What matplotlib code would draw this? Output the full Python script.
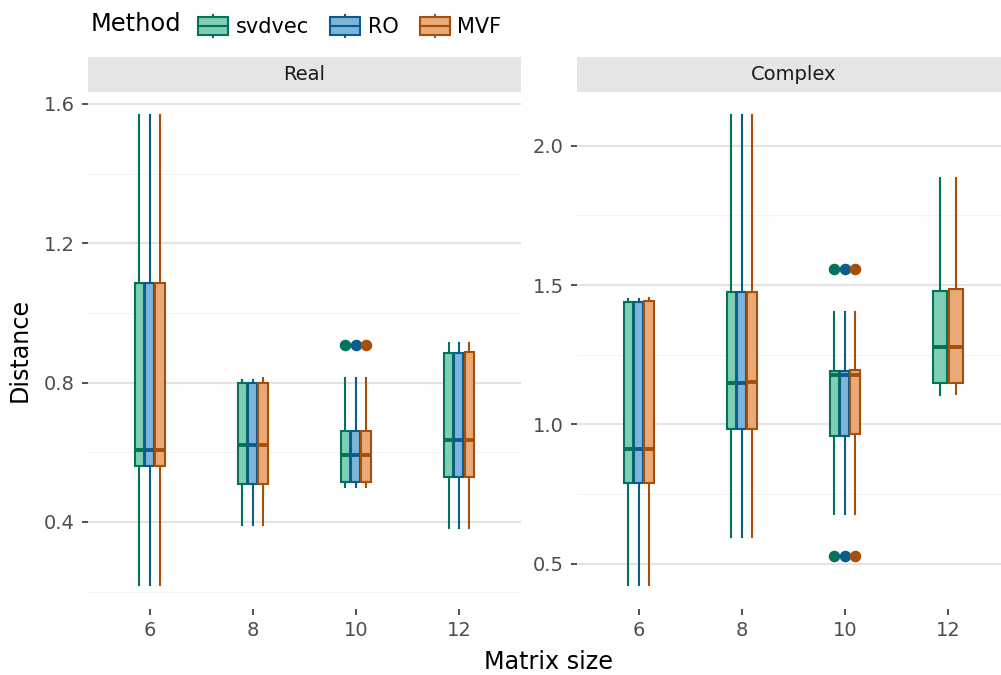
import matplotlib
matplotlib.use("Agg")
import matplotlib.pyplot as plt
from matplotlib.legend_handler import HandlerBase
from matplotlib.patches import Rectangle
from matplotlib.lines import Line2D
from matplotlib.ticker import FormatStrFormatter, MultipleLocator

# data
sizes = [6, 8, 10, 12]
methods = ["svdvec", "RO", "MVF"]
panels = ["Real", "Complex"]

# (lower whisker, q1, median, q3, upper whisker) for each matrix size
real_svdvec = [(0.219, 0.561, 0.607, 1.085, 1.568),
               (0.391, 0.508, 0.620, 0.798, 0.808),
               (0.501, 0.514, 0.593, 0.662, 0.814),
               (0.382, 0.530, 0.635, 0.886, 0.914)]
real_ro = [(0.219, 0.561, 0.607, 1.085, 1.568),
           (0.391, 0.508, 0.620, 0.798, 0.808),
           (0.501, 0.514, 0.593, 0.662, 0.814),
           (0.382, 0.530, 0.635, 0.886, 0.914)]
real_mvf = [(0.219, 0.561, 0.608, 1.085, 1.568),
            (0.391, 0.508, 0.621, 0.799, 0.812),
            (0.501, 0.514, 0.593, 0.662, 0.814),
            (0.382, 0.530, 0.636, 0.889, 0.914)]
real_fliers = [[], [], [0.908], []]

complex_svdvec = [(0.423, 0.788, 0.911, 1.438, 1.448),
                  (0.594, 0.983, 1.148, 1.476, 2.110),
                  (0.678, 0.959, 1.176, 1.191, 1.404),
                  (1.105, 1.150, 1.276, 1.479, 1.883)]
complex_ro = [(0.423, 0.788, 0.911, 1.438, 1.448),
              (0.594, 0.983, 1.148, 1.476, 2.110),
              (0.678, 0.959, 1.176, 1.191, 1.404),
              None]
complex_mvf = [(0.423, 0.788, 0.911, 1.442, 1.452),
               (0.594, 0.983, 1.151, 1.476, 2.110),
               (0.678, 0.964, 1.177, 1.195, 1.404),
               (1.108, 1.150, 1.277, 1.484, 1.883)]
complex_fliers = [[], [], [0.527, 1.557], []]

panel_stats = {
    "Real": {"svdvec": real_svdvec, "RO": real_ro, "MVF": real_mvf},
    "Complex": {"svdvec": complex_svdvec, "RO": complex_ro, "MVF": complex_mvf},
}
panel_fliers = {"Real": real_fliers, "Complex": complex_fliers}
panel_major = {"Real": 0.4, "Complex": 0.5}

fill = {"svdvec": "#80cdb5", "RO": "#7db5da", "MVF": "#e9aa78"}
edge = {"svdvec": "#00735a", "RO": "#0b5b8f", "MVF": "#a64f0b"}

W, H = 1001, 675
fig = plt.figure(figsize=(W / 100, H / 100), dpi=100)

ax_left = [87.7, 576.7]
ax_w = 433.0
ax_top, ax_bot = 91.6, 608.5
strip_h = 35.0
lw = 1.5

for i, name in enumerate(panels):
    ax = fig.add_axes([ax_left[i] / W, 1 - ax_bot / H, ax_w / W, (ax_bot - ax_top) / H])
    stats_by_method = panel_stats[name]
    fliers = panel_fliers[name]

    allv = []
    for j, s in enumerate(sizes):
        present = [m for m in methods if stats_by_method[m][j] is not None]
        n = len(present)
        slot = 0.3 / n
        for k, m in enumerate(present):
            lo, q1, med, q3, hi = stats_by_method[m][j]
            allv += [lo, hi] + fliers[j]
            pos = j + 1 + (k - (n - 1) / 2) * slot
            st = [dict(whislo=lo, q1=q1, med=med, q3=q3, whishi=hi, fliers=fliers[j])]
            ax.bxp(st, positions=[pos], widths=slot * 0.9, patch_artist=True,
                   showcaps=False, manage_ticks=False,
                   boxprops=dict(facecolor=fill[m], edgecolor=edge[m], linewidth=lw),
                   whiskerprops=dict(color=edge[m], linewidth=lw),
                   medianprops=dict(color=edge[m], linewidth=2.8, solid_capstyle="butt"),
                   flierprops=dict(marker="o", markerfacecolor=edge[m], markeredgecolor=edge[m],
                                   markersize=7.3, linestyle="none"),
                   zorder=3)

    lo, hi = min(allv), max(allv)
    pad = 0.05 * (hi - lo)
    ax.set_ylim(lo - pad, hi + pad)
    ax.set_xlim(0.4, 4.6)
    ax.set_xticks(range(1, len(sizes) + 1))
    ax.set_xticklabels([str(s) for s in sizes])
    ax.yaxis.set_major_locator(MultipleLocator(panel_major[name]))
    ax.yaxis.set_minor_locator(MultipleLocator(panel_major[name] / 2))
    ax.yaxis.set_major_formatter(FormatStrFormatter("%.1f"))
    ax.grid(True, axis="y", which="major", color="#e3e3e3", linewidth=1.5, zorder=0)
    ax.grid(True, axis="y", which="minor", color="#f3f3f3", linewidth=0.8, zorder=0)
    ax.set_axisbelow(True)
    for sp in ax.spines.values():
        sp.set_visible(False)
    ax.tick_params(axis="both", which="major", length=4.3, width=1.2, color="#333333",
                   labelsize=14, labelcolor="#4d4d4d", pad=5)
    ax.tick_params(axis="y", which="minor", length=0)

    # facet strip
    sh = strip_h / (ax_bot - ax_top)
    ax.add_patch(Rectangle((0, 1), 1, sh, transform=ax.transAxes, facecolor="#e5e5e5",
                           edgecolor="none", clip_on=False))
    ax.text(0.5, 1 + sh / 2, name, transform=ax.transAxes, ha="center", va="center",
            fontsize=14, color="#1a1a1a")

fig.text(20 / W, 1 - 350 / H, "Distance", rotation=90, ha="center", va="center", fontsize=17.2)
fig.text(548.7 / W, 1 - 662 / H, "Matrix size", ha="center", va="center", fontsize=17.2)


class BoxKey(HandlerBase):
    def create_artists(self, legend, orig_handle, xdescent, ydescent, width, height, fontsize, trans):
        x0, y0 = -xdescent, -ydescent
        fc = orig_handle.get_facecolor()
        ec = orig_handle.get_edgecolor()
        xm = x0 + width / 2
        arts = [
            Line2D([xm, xm], [y0, y0 + height], color=ec, linewidth=lw),
            Rectangle((x0, y0 + 0.1 * height), width, 0.8 * height, facecolor=fc,
                      edgecolor=ec, linewidth=lw),
            Line2D([x0, x0 + width], [y0 + height / 2] * 2, color=ec, linewidth=lw),
        ]
        for a in arts:
            a.set_transform(trans)
        return arts


handles = [Rectangle((0, 0), 1, 1, facecolor=fill[m], edgecolor=edge[m]) for m in methods]
fig.text(91 / W, 1 - 24 / H, "Method", ha="left", va="center", fontsize=17.4)
fig.legend(handles, methods, handler_map={Rectangle: BoxKey()}, loc="center left",
           bbox_to_anchor=(198 / W, 1 - 26 / H), ncol=3, frameon=False, fontsize=15,
           handlelength=1.44, handleheight=1.3, handletextpad=0.38, columnspacing=1.0,
           borderpad=0, borderaxespad=0)

fig.savefig("out.png", dpi=100)
